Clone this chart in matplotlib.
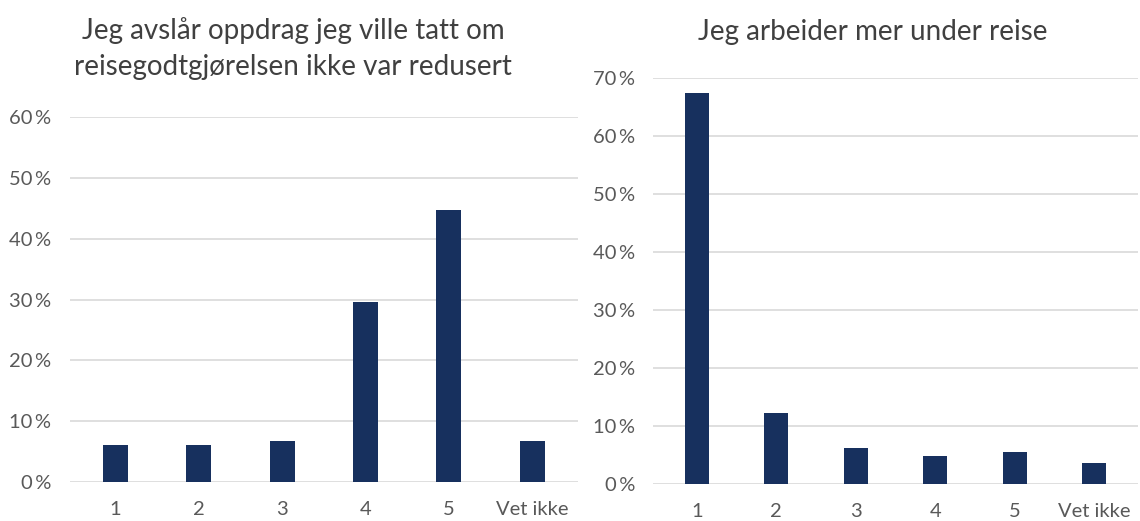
import matplotlib
matplotlib.use("Agg")
import matplotlib.pyplot as plt

plt.rcParams['font.family'] = ['Lato', 'DejaVu Sans']

categories = ['1', '2', '3', '4', '5', 'Vet ikke']
avslar_values = [6.1, 6.1, 6.8, 29.6, 44.7, 6.8]
reise_values = [67.4, 12.2, 6.2, 4.9, 5.5, 3.7]

title_left = 'Jeg avslår oppdrag jeg ville tatt om\nreisegodtgjørelsen ikke var redusert'
title_right = 'Jeg arbeider mer under reise'

bar_color = '#17305e'
grid_color = '#d9d9d9'
text_color = '#595959'

fig = plt.figure(figsize=(11.4, 5.21), dpi=100)
ax1 = fig.add_axes([0.061, 0.075, 0.446, 0.700])
ax2 = fig.add_axes([0.573, 0.071, 0.425, 0.779])


def style_axis(ax, values, ymax):
    x = range(len(categories))
    ax.bar(x, values, width=0.3, color=bar_color, zorder=3)
    ax.set_ylim(0, ymax)
    ax.set_xlim(-0.55, len(categories) - 0.45)
    ax.set_yticks(range(0, ymax + 1, 10))
    ax.set_yticklabels([f'{t}\u2009%' for t in range(0, ymax + 1, 10)],
                       color=text_color, fontsize=14.5)
    ax.set_xticks(list(x))
    ax.set_xticklabels(categories, color=text_color, fontsize=14.5)
    ax.tick_params(length=0, pad=14, axis='x')
    ax.tick_params(length=0, pad=13, axis='y')
    ax.yaxis.grid(True, color=grid_color, linewidth=1.2, zorder=0)
    for s in ax.spines.values():
        s.set_visible(False)


style_axis(ax1, avslar_values, 60)
style_axis(ax2, reise_values, 70)

fig.text(0.257, 0.907, title_left, ha='center', va='center', fontsize=20,
         color='#404040', linespacing=1.45)
fig.text(0.766, 0.938, title_right, ha='center', va='center', fontsize=20,
         color='#404040')

fig.savefig('out.png', dpi=100, facecolor='white')
